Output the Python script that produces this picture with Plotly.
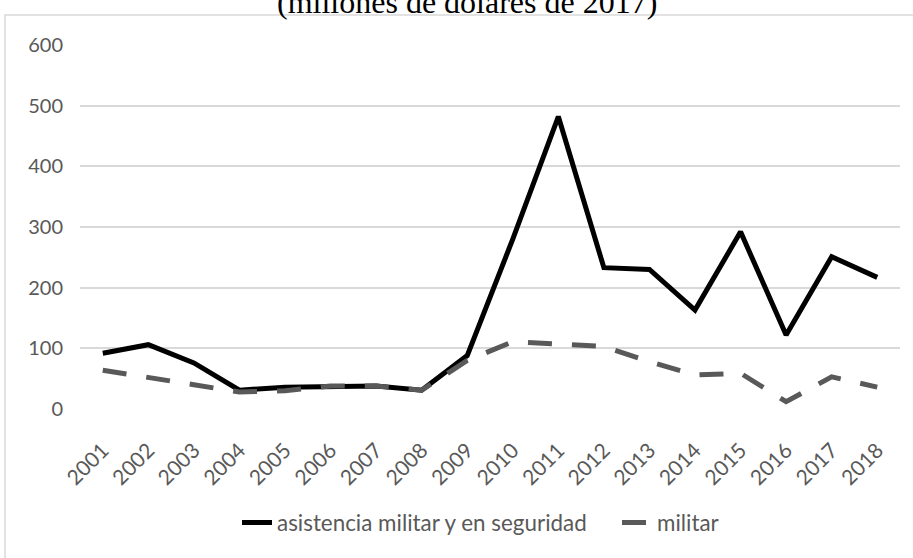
import plotly.graph_objects as go

years = [str(y) for y in range(2001, 2019)]
asistencia = [92, 106, 76, 31, 36, 38, 38, 31, 88, 280, 482, 233, 230, 163, 292, 122, 251, 217]
militar = [64, 53, 40, 28, 30, 38, 38, 31, 80, 111, 107, 103, 78, 56, 59, 12, 53, 36]
y_ticks = [0, 100, 200, 300, 400, 500, 600]
title_text = "(millones de dólares de 2017)"
names = ["asistencia militar y en seguridad", "militar"]

W, H = 913, 558
L, R, T, B = 80, 13, 45, 149
pw, ph = W - L - R, H - T - B

def px(x):
    return (x - L) / pw

def py(y):
    return (H - B - y) / ph

fig = go.Figure()
fig.add_trace(go.Scatter(x=years, y=asistencia, mode="lines", name=names[0], legend="legend",
                         line=dict(color="#000000", width=5)))
fig.add_trace(go.Scatter(x=years, y=militar, mode="lines", name=names[1], legend="legend2",
                         line=dict(color="#595959", width=5, dash="24px,20px")))

leg_common = dict(orientation="h", xanchor="left", yanchor="middle",
                  font=dict(size=22.4, color="#595959"), bgcolor="rgba(0,0,0,0)")

fig.update_layout(
    width=W, height=H,
    margin=dict(l=L, r=R, t=T, b=B),
    paper_bgcolor="white", plot_bgcolor="white",
    font=dict(family="Lato", color="#595959", size=20),
    showlegend=True,
    legend=dict(x=px(237), y=py(523), **leg_common),
    legend2=dict(x=px(617), y=py(523), **leg_common),
    xaxis=dict(type="category", range=[-0.5, 17.5], showgrid=False, zeroline=False,
               showline=False, tickangle=-45, tickfont=dict(size=21, color="#595959"),
               ticks="", ticklabelstandoff=24),
    yaxis=dict(range=[0, 600], tickvals=y_ticks, showgrid=True, gridcolor="#d9d9d9",
               gridwidth=1.5, zeroline=False, showline=False, ticks="",
               tickfont=dict(size=20, color="#595959"), ticklabelstandoff=16),
    shapes=[dict(type="rect", xref="paper", yref="paper",
                 x0=px(5), x1=px(940), y0=py(590), y1=py(15),
                 line=dict(color="#d9d9d9", width=1.5), fillcolor="rgba(0,0,0,0)", layer="below")],
    annotations=[dict(text=title_text, xref="paper", yref="paper", x=px(467), y=py(22),
                      xanchor="center", yanchor="bottom", showarrow=False,
                      font=dict(family="Liberation Serif", size=32, color="#000000"))],
)

fig.write_html("out.html", config={"displayModeBar": False},
               post_script="document.body.style.margin='0';document.body.style.overflow='hidden';")
